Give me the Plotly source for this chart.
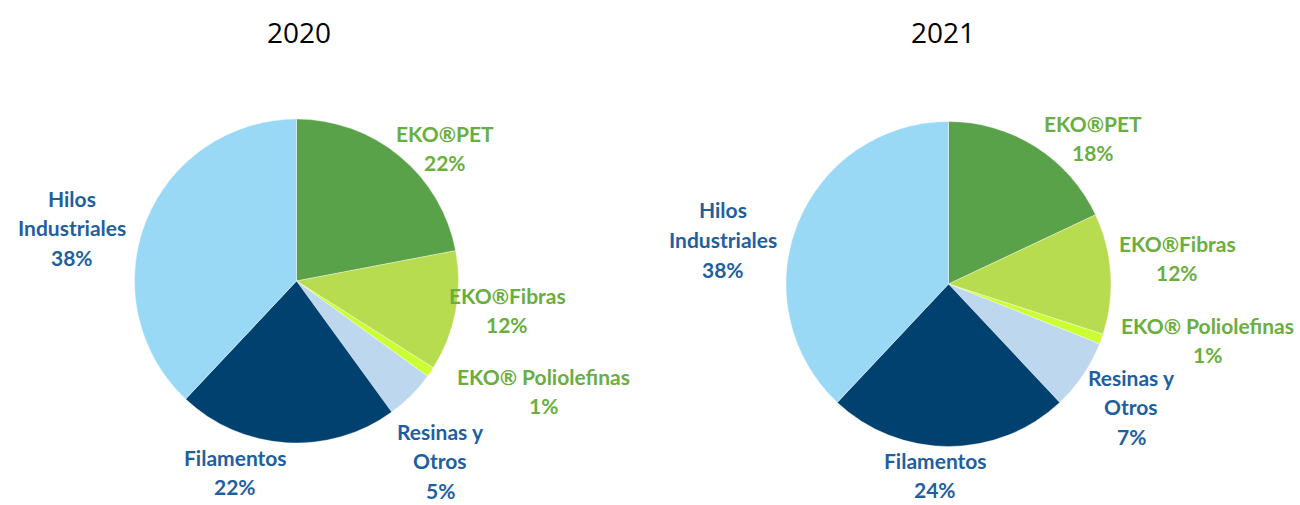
import plotly.graph_objects as go

categories = ["EKO®PET", "EKO®Fibras", "EKO® Poliolefinas", "Resinas y Otros", "Filamentos", "Hilos Industriales"]
values_2020 = [22, 12, 1, 5, 22, 38]
values_2021 = [18, 12, 1, 7, 24, 38]
years = ["2020", "2021"]
slice_colors = ["#5AA24A", "#B8DC50", "#CCFF33", "#BDD7EE", "#00416F", "#99D9F6"]
label_colors = ["#6AAE3F", "#6AAE3F", "#6AAE3F", "#1F5F9F", "#1F5F9F", "#1F5F9F"]
label_lines = [["EKO®PET"], ["EKO®Fibras"], ["EKO® Poliolefinas"],
               ["Resinas y", "Otros"], ["Filamentos"], ["Hilos", "Industriales"]]

# label anchor positions (pixel centers of the first text line) for each pie
label_pos_2020 = [(445, 133), (507, 295), (543, 376), (440, 431), (235, 457), (72, 198)]
label_pos_2021 = [(1093, 123), (1177, 243), (1207, 325), (1131, 377), (935, 460), (723, 210)]

W, H = 1300, 505
FONT = "Lato"

fig = go.Figure()

domains = [
    dict(x=[133 / W, 460 / W], y=[(H - 443) / H, (H - 119) / H]),
    dict(x=[786 / W, 1111 / W], y=[(H - 447) / H, (H - 121) / H]),
]

for vals, dom, yr in zip([values_2020, values_2021], domains, years):
    fig.add_trace(go.Pie(
        labels=categories,
        values=vals,
        sort=False,
        direction="clockwise",
        rotation=0,
        marker=dict(colors=slice_colors, line=dict(color="rgba(255,255,255,0.6)", width=0.6)),
        textinfo="none",
        hoverinfo="label+percent",
        showlegend=False,
        domain=dom,
        name=yr,
    ))

annotations = []
title_pos = [(299, 32), (943, 32)]
for yr, (tx, ty) in zip(years, title_pos):
    annotations.append(dict(
        x=tx / W, y=1 - ty / H, xref="paper", yref="paper", text=yr, showarrow=False,
        font=dict(family="Open Sans", size=28, color="#000000"), xanchor="center", yanchor="middle",
    ))

line_h = 29.5
for vals, positions in zip([values_2020, values_2021], [label_pos_2020, label_pos_2021]):
    for lines, v, c, (lx, ly) in zip(label_lines, vals, label_colors, positions):
        all_lines = lines + [f"{v}%"]
        for i, t in enumerate(all_lines):
            annotations.append(dict(
                x=lx / W, y=1 - (ly + i * line_h) / H, xref="paper", yref="paper", text=t, showarrow=False,
                font=dict(family=FONT, size=21, color=c, weight="bold"), xanchor="center", yanchor="middle",
            ))

fig.update_layout(
    width=W, height=H,
    margin=dict(l=0, r=0, t=0, b=0),
    paper_bgcolor="white", plot_bgcolor="white",
    annotations=annotations,
)

fig.write_html("out.html")
